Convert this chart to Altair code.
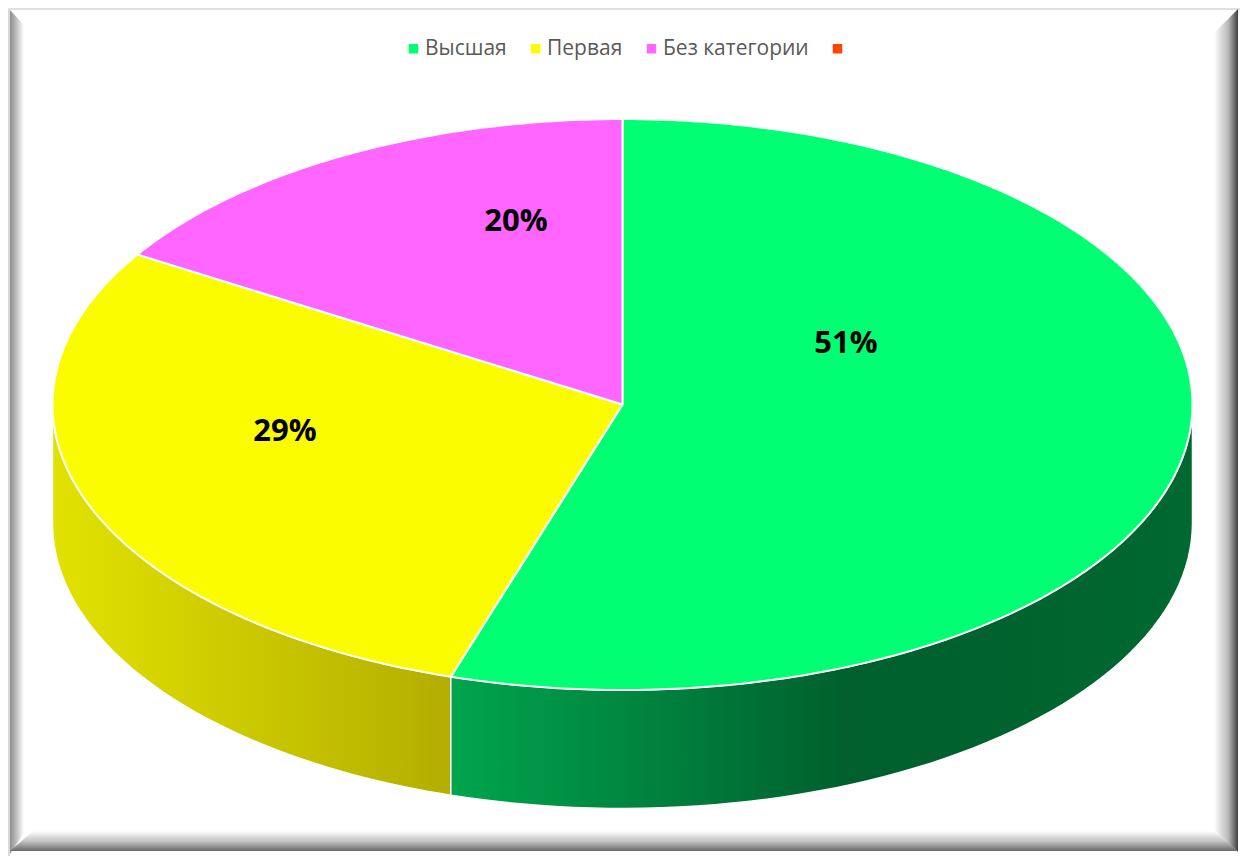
import math
import altair as alt
import pandas as pd

# ---- values ----
categories = ["Высшая", "Первая", "Без категории", " "]
slice_shares = [54.87, 28.93, 16.2, 0.0]      # drawn size of each slice
label_texts = ["51%", "29%", "20%"]
label_x = [846, 285, 516]
label_y = [344, 432, 222]
colors = ["#00FF73", "#FCFC00", "#FF66FF", "#FF4500"]

CX, CY, RX, RY, DEPTH = 622.5, 404.5, 570, 285.5, 118.5
W, H = 1232, 848
x_scale = alt.Scale(domain=[8, 8 + W], range=[0, W], nice=False, zero=False)
y_scale = alt.Scale(domain=[8, 8 + H], range=[0, H], nice=False, zero=False)
X = lambda f: alt.X(f, type="quantitative", scale=x_scale, axis=None)
Y = lambda f: alt.Y(f, type="quantitative", scale=y_scale, axis=None)


def rim(deg):
    a = math.radians(deg)
    return CX + RX * math.sin(a), CY - RY * math.cos(a)


# top faces, from cumulative shares
rows = []
start = 0.0
for cat, share in zip(categories, slice_shares):
    if share > 0:
        a0, a1 = start * 3.6, (start + share) * 3.6
        n = max(2, int(a1 - a0))
        pts = [(CX, CY)] + [rim(a0 + (a1 - a0) * i / n) for i in range(n + 1)] + [(CX, CY)]
        rows += [dict(cat=cat, i=i, x=p[0], y=p[1]) for i, p in enumerate(pts)]
    start += share
top = (
    alt.Chart(pd.DataFrame(rows))
    .mark_line(strokeWidth=2, stroke="white", strokeJoin="round", interpolate="linear")
    .encode(
        x=X("x"),
        y=Y("y"),
        order=alt.Order("i:Q"),
        fill=alt.Fill(
            "cat:N",
            scale=alt.Scale(domain=categories, range=colors),
            legend=alt.Legend(
                title=None,
                orient="none",
                legendX=395,
                legendY=30,
                direction="horizontal",
                columns=4,
                columnPadding=18,
                symbolType="square",
                symbolSize=90,
                symbolStrokeWidth=0,
                labelFont="Open Sans",
                labelFontSize=21,
                labelColor="#595959",
                labelOffset=1,
                gridAlign="each",
            ),
        ),
    )
)


def wall(a0, a1, stops):
    n = 60
    d = []
    for i in range(n + 1):
        x, y = rim(a0 + (a1 - a0) * i / n)
        d.append(dict(x=x, y=y, y2=y + DEPTH))
    d.sort(key=lambda r: r["x"])
    return (
        alt.Chart(pd.DataFrame(d))
        .mark_area(
            stroke="white",
            strokeWidth=1.5,
            fill=alt.Gradient(
                gradient="linear",
                x1=0, y1=0, x2=1, y2=0,
                stops=[alt.GradientStop(offset=o, color=c) for o, c in stops],
            ),
        )
        .encode(x=X("x"), y=Y("y"), y2="y2:Q")
    )


a_green = slice_shares[0] * 3.6
wall_green = wall(90, a_green, [(0, "#00A54E"), (0.54, "#005F2D"), (1, "#006831")])
wall_yellow = wall(a_green, 270, [(0, "#E2E200"), (1, "#B3AE00")])


# picture frame
def bevel(rows, horizontal, stops):
    g = dict(x1=0, y1=0, x2=1, y2=0) if not horizontal else dict(x1=0, y1=0, x2=0, y2=1)
    m = alt.Chart(pd.DataFrame(rows)).mark_area(
        orient="horizontal" if horizontal else "vertical",
        fill=alt.Gradient(
            gradient="linear",
            stops=[alt.GradientStop(offset=o, color=c) for o, c in stops],
            **g,
        ),
    )
    if horizontal:
        return m.encode(y=Y("a"), x=X("b"), x2="c:Q")
    return m.encode(x=X("a"), y=Y("b"), y2="c:Q")


frame = [
    bevel([dict(a=8, b=8, c=856), dict(a=10, b=8, c=856)], False, [(0, "#D9D9D9"), (1, "#D9D9D9")]),
    bevel([dict(a=8, b=8, c=1240), dict(a=10, b=8, c=1240)], True, [(0, "#E0E0E0"), (1, "#E0E0E0")]),
    bevel([dict(a=10, b=10, c=854), dict(a=24, b=25, c=833)], False, [(0, "#8E8E8E"), (0.5, "#C4C4C4"), (1, "#FFFFFF")]),
    bevel([dict(a=1214, b=33, c=830), dict(a=1238, b=9, c=852)], False, [(0, "#FFFFFF"), (0.6, "#B8B8B8"), (1, "#404040")]),
    bevel([dict(a=831, b=33, c=1214), dict(a=851, b=10, c=1238)], True, [(0, "#FFFFFF"), (0.5, "#C4C4C4"), (1, "#6A6A6A")]),
]

labels = (
    alt.Chart(pd.DataFrame(dict(t=label_texts, x=label_x, y=label_y)))
    .mark_text(font="Open Sans", fontWeight="bold", fontSize=31, color="black")
    .encode(x=X("x"), y=Y("y"), text="t:N")
)

chart = (
    alt.layer(*frame, wall_yellow, wall_green, top, labels)
    .properties(width=W, height=H, padding=0, autosize=alt.AutoSizeParams(type="none"))
    .configure_view(strokeWidth=0)
)
chart.save("out.html", embed_options={"renderer": "svg", "actions": False})
